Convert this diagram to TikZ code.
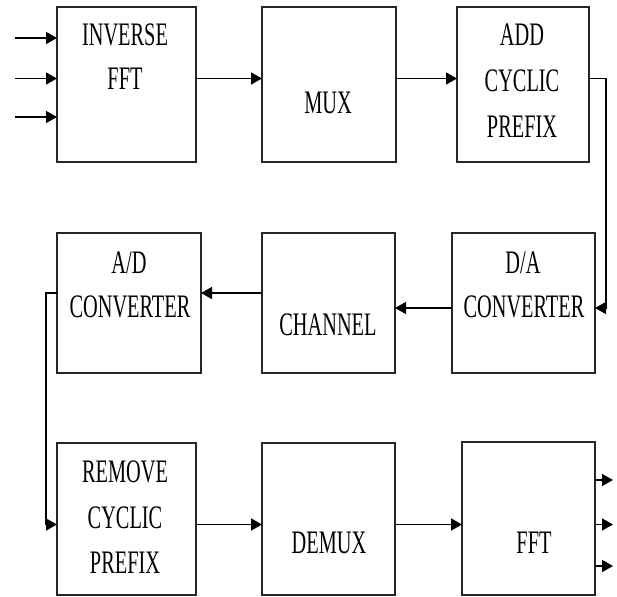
\documentclass[tikz,border=0pt]{standalone}
\usepackage{fontspec}
\setmainfont{Liberation Serif}
\usetikzlibrary{arrows.meta}
\newcommand{\cnd}[1]{\scalebox{0.62}[1]{#1}}
\begin{document}
\begin{tikzpicture}[x=1pt,y=-1pt,
  blk/.style={draw=black!85,line width=1.4pt,rectangle,inner sep=0pt,outer sep=0pt},
  lbl/.style={anchor=base,inner sep=0pt,font=\fontsize{32.8}{40}\selectfont},
  arr/.style={line width=1.4pt,-{Triangle[length=11pt,width=12pt]}},
  ln/.style={line width=1.4pt}]
\useasboundingbox (0,0) rectangle (617,596);
% boxes
\node[blk,minimum width=139pt,minimum height=155pt] (ifft) at (126.5,84.5) {};
\node[blk,minimum width=134pt,minimum height=155pt] (mux) at (329,84.5) {};
\node[blk,minimum width=132pt,minimum height=155pt] (acp) at (523,84.5) {};
\node[blk,minimum width=143pt,minimum height=140pt] (da) at (523.5,303) {};
\node[blk,minimum width=133pt,minimum height=140pt] (ch) at (328.5,303) {};
\node[blk,minimum width=144pt,minimum height=140pt] (ad) at (129,303) {};
\node[blk,minimum width=139pt,minimum height=152pt] (rcp) at (126.5,519) {};
\node[blk,minimum width=133pt,minimum height=152pt] (demux) at (328.5,519) {};
\node[blk,minimum width=133pt,minimum height=153pt] (fft) at (528.5,518.5) {};
% labels
\node[lbl] (t1) at (125,46) {\cnd{INVERSE}};
\node[lbl] (t2) at (125,90) {\cnd{FFT}};
\node[lbl] (t3) at (328,114) {\cnd{MUX}};
\node[lbl] (t4) at (522,46) {\cnd{ADD}};
\node[lbl] (t5) at (522,92) {\cnd{CYCLIC}};
\node[lbl] (t6) at (522,138) {\cnd{PREFIX}};
\node[lbl] (t7) at (523,273) {\cnd{D/A}};
\node[lbl] (t8) at (524,317) {\cnd{CONVERTER}};
\node[lbl] (t9) at (328,335) {\cnd{CHANNEL}};
\node[lbl] (t10) at (129,273) {\cnd{A/D}};
\node[lbl] (t11) at (130,317) {\cnd{CONVERTER}};
\node[lbl] (t12) at (125,482) {\cnd{REMOVE}};
\node[lbl] (t13) at (125,528) {\cnd{CYCLIC}};
\node[lbl] (t14) at (125,573) {\cnd{PREFIX}};
\node[lbl] (t15) at (329,553) {\cnd{DEMUX}};
\node[lbl] (t16) at (534,553) {\cnd{FFT}};
% coordinates
\coordinate (i1) at (15,38);
\coordinate (i2) at (15,78.5);
\coordinate (i3) at (15,117);
\coordinate (c1) at (606,78.5);
\coordinate (c2) at (606,308);
\coordinate (c3) at (46,293);
\coordinate (c4) at (46,524.5);
\coordinate (o1) at (613,480);
\coordinate (o2) at (613,524.5);
\coordinate (o3) at (613,566);
% connectors
\draw[arr] (i1) -- (i1 -| ifft.west);
\draw[arr] (i2) -- (i2 -| ifft.west);
\draw[arr] (i3) -- (i3 -| ifft.west);
\draw[arr] (i2 -| ifft.east) -- (i2 -| mux.west);
\draw[arr] (i2 -| mux.east) -- (i2 -| acp.west);
\draw[arr] (c1 -| acp.east) -- (c1) -- (c2) -- (c2 -| da.east);
\draw[arr] (c2 -| da.west) -- (c2 -| ch.east);
\draw[arr] (c3 -| ch.west) -- (c3 -| ad.east);
\draw[arr] (c3 -| ad.west) -- (c3) -- (c4) -- (c4 -| rcp.west);
\draw[arr] (c4 -| rcp.east) -- (c4 -| demux.west);
\draw[arr] (c4 -| demux.east) -- (c4 -| fft.west);
\draw[arr] (o1 -| fft.east) -- (o1);
\draw[arr] (o2 -| fft.east) -- (o2);
\draw[arr] (o3 -| fft.east) -- (o3);
\end{tikzpicture}
\end{document}
